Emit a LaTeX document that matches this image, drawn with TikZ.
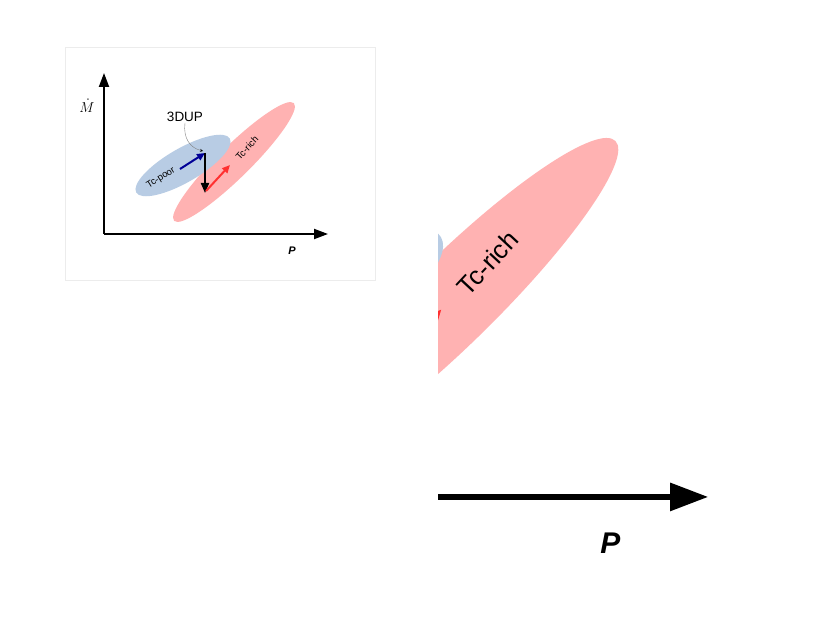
\documentclass[tikz,border=0pt]{standalone}
\usepackage{fontspec}
\setmainfont{Liberation Sans}
\usetikzlibrary{arrows.meta}
\definecolor{redfill}{RGB}{255,178,178}
\definecolor{bluefill}{RGB}{184,204,228}
\definecolor{redarrow}{RGB}{255,48,48}
\definecolor{bluearrow}{RGB}{0,0,150}
\definecolor{framegrey}{RGB}{236,236,236}
\newif\ifsmallcopy
\tikzset{
  axisline/.style={line width=2pt,-{Triangle[length=14pt,width=10pt]}},
  shiftarrow/.style={line width=2pt,-{Triangle[length=8pt,width=7pt]}},
  lbl/.style={inner sep=0pt,font=\fontsize{9.5}{11}\selectfont},
}
\newcommand{\mydiagram}{%
  \draw[framegrey,line width=0.8pt] (65,342) rectangle (375,575);
  \fill[redfill,rotate around={44.5:(234,460)}] (234,460) ellipse [x radius=84, y radius=16];
  \fill[bluefill,rotate around={30:(183,456.5)}] (183,456.5) ellipse [x radius=54, y radius=17];
  \coordinate (o) at (104,388);
  \coordinate (ytip) at (104,549);
  \coordinate (xtip) at (328,388);
  \draw[axisline] (o) -- (ytip);
  \draw[axisline] (o) -- (xtip);
  \node[inner sep=0pt,font=\fontsize{11}{13}\selectfont\bfseries\itshape] (plab) at (292,371) {P};
  \coordinate (bstart) at (180,453);
  \coordinate (top) at (205,469);
  \coordinate (bottom) at (205,429);
  \coordinate (rtip) at (230,457);
  \draw[shiftarrow,bluearrow] (bstart) -- (top);
  \draw[line width=2pt,-{Triangle[length=10pt,width=8pt]}] (top) -- (bottom);
  \draw[shiftarrow,redarrow] ([shift={(1,2)}]bottom) -- (rtip);
  \node[lbl,rotate=47] (rich) at (247,474) {Tc-rich};
  \ifsmallcopy
    \node[inner sep=0pt,font=\fontsize{14}{16}\selectfont] (mdot) at (87,516) {$\dot{M}$};
    \node[lbl,rotate=32] (poor) at (161,444) {Tc-poor};
    \node[inner sep=1pt,font=\fontsize{13.5}{15}\selectfont] (dup) at (185,505) {3DUP};
    \coordinate (duptip) at (203,471);
    \draw[gray,line width=0.4pt,-{Stealth[length=3pt,width=3pt,black]}] (dup.south) .. controls (183,484) and (190,474) .. (duptip);
  \fi
}
\begin{document}
\begin{tikzpicture}[x=1pt,y=1pt]
  \useasboundingbox (0,0) rectangle (830,622);
  \fill[white] (0,0) rectangle (830,622);
  \begin{scope}
    \smallcopytrue
    \mydiagram
  \end{scope}
  \begin{scope}[name prefix=big-]
    \smallcopyfalse
    \clip (438,4) rectangle (830,622);
    \begin{scope}[transform canvas={shift={(-184pt,-930.3pt)},scale=2.72}]
      \mydiagram
    \end{scope}
  \end{scope}
\end{tikzpicture}
\end{document}
